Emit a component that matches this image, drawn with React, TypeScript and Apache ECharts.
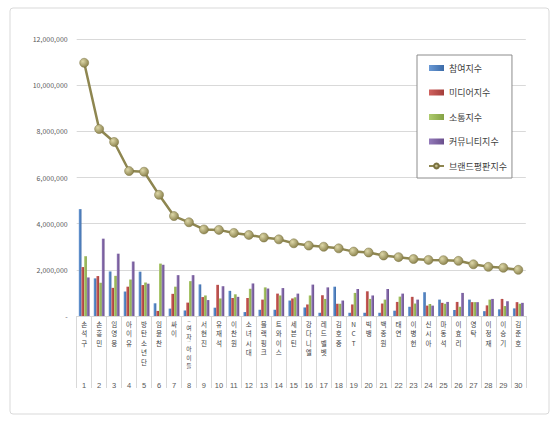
import React, { useEffect, useRef } from "react";
import * as echarts from "echarts";

const names = ["손석구","손흥민","임영웅","아이유","방탄소년단","임윤찬","싸이","(여자)아이들","서현진","유재석","이찬원","소녀시대","블랙핑크","트와이스","세븐틴","강다니엘","레드벨벳","김호중","NCT","빅뱅","백종원","태연","이병헌","신시아","마동석","이효리","영탁","이정재","이승기","김준호"];
const ranks = ["1","2","3","4","5","6","7","8","9","10","11","12","13","14","15","16","17","18","19","20","21","22","23","24","25","26","27","28","29","30"];
const participation = [4630000,1630000,1930000,1060000,1920000,550000,320000,240000,1370000,360000,1090000,170000,270000,270000,670000,370000,140000,1270000,140000,140000,140000,230000,400000,1030000,710000,260000,710000,210000,290000,330000];
const media = [2120000,1730000,1220000,1270000,1340000,220000,960000,580000,820000,1350000,780000,780000,710000,970000,760000,500000,900000,530000,500000,1070000,540000,610000,830000,450000,570000,610000,600000,460000,740000,600000];
const communication = [2590000,1440000,1740000,1580000,1450000,2270000,1270000,1510000,890000,760000,940000,1180000,1240000,890000,810000,890000,740000,530000,1000000,740000,710000,840000,540000,520000,530000,400000,600000,710000,430000,530000];
const community = [1670000,3350000,2700000,2360000,1400000,2220000,1770000,1770000,690000,1290000,830000,1410000,1190000,1210000,970000,1360000,1240000,670000,1170000,890000,1170000,970000,710000,450000,610000,1000000,600000,740000,640000,570000];
const brand = [10970000,8100000,7540000,6280000,6250000,5250000,4330000,4060000,3750000,3730000,3600000,3510000,3400000,3320000,3150000,3050000,3000000,2930000,2790000,2750000,2620000,2550000,2470000,2430000,2420000,2390000,2240000,2130000,2090000,2000000];
const seriesNames = ["참여지수","미디어지수","소통지수","커뮤니티지수","브랜드평판지수"];

const FONT = "'Noto Sans CJK KR', 'Noto Sans', sans-serif";

function grad(a: string, b: string) {
  return new echarts.graphic.LinearGradient(0, 0, 1, 0, [
    { offset: 0, color: a },
    { offset: 1, color: b },
  ]);
}

export default function App() {
  const ref = useRef<HTMLDivElement>(null);
  useEffect(() => {
    if (!ref.current) return;
    const chart = echarts.init(ref.current, null, { renderer: "svg" });
    const barColors = [
      ["#6A9AD6", "#3C6BA8"],
      ["#D0615E", "#A33D3A"],
      ["#AECB6E", "#84A245"],
      ["#937ABA", "#6A4F8C"],
    ];
    const barData = [participation, media, communication, community];
    const bars = barData.map((d, i) => ({
      name: seriesNames[i],
      type: "bar",
      data: d,
      barGap: "0%",
      barCategoryGap: "28%",
      itemStyle: { color: grad(barColors[i][0], barColors[i][1]) },
    }));
    chart.setOption({
      animation: false,
      backgroundColor: "#FFFFFF",
      textStyle: { fontFamily: FONT },
      graphic: [
        {
          type: "rect",
          shape: { x: 10, y: 8, width: 539, height: 406, r: 3 },
          style: { fill: "none", stroke: "#D9D9D9", lineWidth: 1 },
          silent: true,
          z: -1,
        },
      ],
      grid: { left: 76.7, right: 34.2, top: 39, bottom: 107, containLabel: false },
      legend: {
        orient: "vertical",
        left: 417,
        top: 55,
        padding: [7, 5, 6, 11],
        itemGap: 12.5,
        itemWidth: 15,
        itemHeight: 6,
        backgroundColor: "#FFFFFF",
        borderColor: "#8C8C8C",
        borderWidth: 1,
        textStyle: { fontSize: 9, color: "#404040", fontFamily: FONT, lineHeight: 12 },
        data: [
          { name: seriesNames[0], icon: "rect" },
          { name: seriesNames[1], icon: "rect" },
          { name: seriesNames[2], icon: "rect" },
          { name: seriesNames[3], icon: "rect" },
          { name: seriesNames[4] },
        ],
      },
      xAxis: [
        {
          type: "category",
          data: names,
          axisLine: { show: true, lineStyle: { color: "#D9D9D9" } },
          axisTick: { show: true, length: 72, lineStyle: { color: "#D9D9D9" } },
          axisLabel: {
            interval: 0,
            margin: 3,
            fontSize: 6.5,
            lineHeight: 9.5,
            color: "#404040",
            fontFamily: FONT,
            formatter: (v: string) => {
              const chars = Array.from(v);
              if (v.indexOf("(") >= 0) {
                return chars
                  .map((c) => (c === "(" ? "{p|︵}" : c === ")" ? "{p|︶}" : "{k|" + c + "}"))
                  .join("\n");
              }
              return chars.join("\n");
            },
            rich: {
              p: { fontSize: 3, lineHeight: 4.4, color: "#404040", fontFamily: FONT },
              k: { fontSize: 5.8, lineHeight: 8.45, color: "#404040", fontFamily: FONT },
            },
          },
        },
        {
          type: "category",
          data: ranks,
          position: "bottom",
          offset: 57,
          axisLine: { show: false },
          axisTick: { show: false },
          axisLabel: {
            interval: 0,
            margin: 8,
            fontSize: 7.5,
            color: "#595959",
            fontFamily: "'Liberation Sans', 'Noto Sans', sans-serif",
          },
        },
      ],
      yAxis: {
        type: "value",
        min: 0,
        max: 12000000,
        interval: 2000000,
        axisLine: { show: false },
        axisTick: { show: false },
        splitLine: { lineStyle: { color: "#D9D9D9" } },
        axisLabel: {
          margin: 9,
          fontSize: 7,
          color: "#595959",
          fontFamily: FONT,
          formatter: (v: number) => (v === 0 ? "-" : v.toLocaleString("en-US")),
        },
      },
      series: [
        ...bars,
        {
          name: seriesNames[4],
          type: "line",
          data: brand,
          z: 5,
          symbol: "circle",
          symbolSize: 9,
          lineStyle: { color: "#8E8650", width: 2.5 },
          itemStyle: {
            color: new echarts.graphic.RadialGradient(0.35, 0.35, 0.75, [
              { offset: 0, color: "#DDD7A8" },
              { offset: 1, color: "#857C46" },
            ]),
            borderColor: "#7A7240",
            borderWidth: 0.5,
          },
        },
      ],
    });
    return () => chart.dispose();
  }, []);
  return (
    <div
      ref={ref}
      style={{ position: "fixed", left: 0, top: 0, width: 560, height: 423 }}
    />
  );
}
